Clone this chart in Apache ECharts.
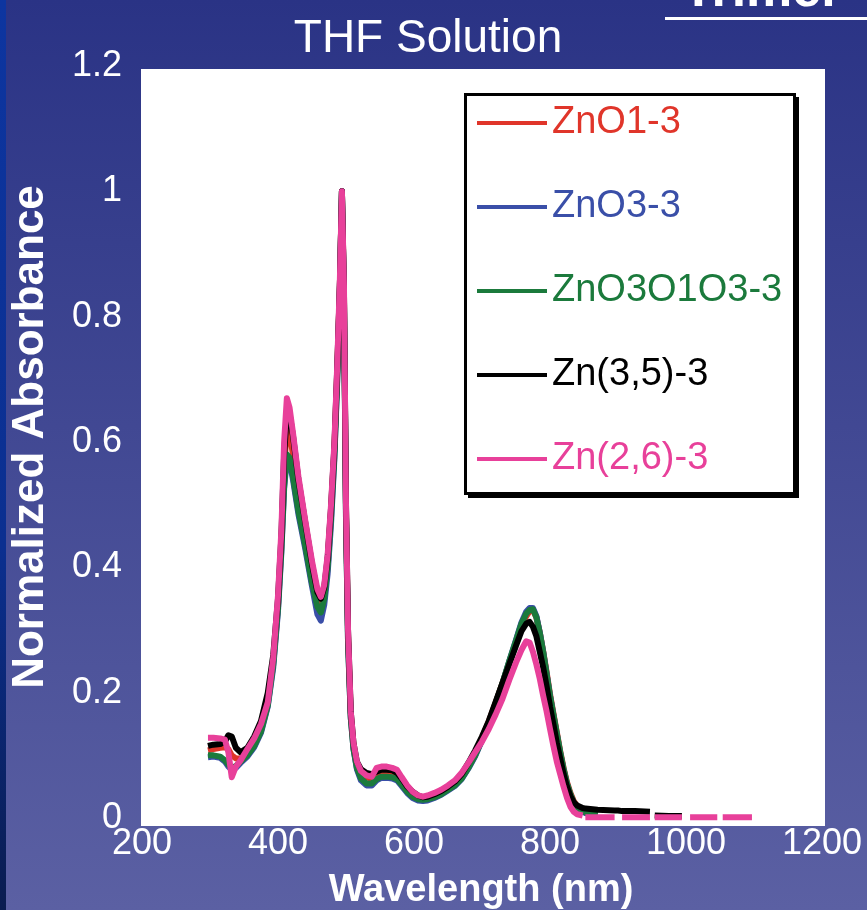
<!DOCTYPE html>
<html>
<head>
<meta charset="utf-8">
<script src="https://cdn.jsdelivr.net/npm/echarts@6/dist/echarts.min.js"></script>
<style>
html,body{margin:0;padding:0;background:#2a3385;}
#chart{width:867px;height:910px;}
</style>
</head>
<body>
<div id="chart"></div>
<script>
// ---- data ----
const seriesNames = ['ZnO1-3', 'ZnO3-3', 'ZnO3O1O3-3', 'Zn(3,5)-3', 'Zn(2,6)-3'];
const xTicks = [200, 400, 600, 800, 1000, 1200];
const yTicks = [0, 0.2, 0.4, 0.6, 0.8, 1, 1.2];
const titleText = 'THF Solution';
const xAxisTitle = 'Wavelength (nm)';
const yAxisTitle = 'Normalized Absorbance';

const wavelength = [
  297, 305, 315, 322, 327, 332, 338, 345, 355, 365, 375, 385, 393, 400, 405, 409, 413, 417, 422, 430,
  440, 450, 458, 463, 468, 473, 478, 483, 487, 491, 494, 497, 500, 503, 507, 511, 516, 522, 530, 538,
  545, 552, 560, 568, 575, 582, 590, 598, 606, 613, 620, 630, 640, 650, 660, 670, 680, 690, 700, 710,
  720, 730, 740, 750, 758, 765, 770, 775, 780, 785, 790, 795, 800, 805, 810, 815, 820, 825, 830, 835,
  840, 848, 849.5, 852, 870, 895, 900, 906, 925, 947, 950, 954, 975, 994, 1000, 1006, 1025, 1046, 1050, 1054,
  1075, 1097
];

const absZnO1 = [
  .108, .110, .112, .113, .110, .100, .095, .095, .104, .120, .145, .190, .250, .340, .440, .560, .620, .615, .580, .520,
  .455, .390, .348, .340, .360, .410, .490, .590, .710, .850, 1.0, .840, .490, .290, .165, .115, .085, .072, .065, .062,
  .070, .073, .073, .072, .068, .058, .046, .037, .032, .030, .031, .035, .040, .047, .056, .068, .085, .105, .128, .154,
  .184, .215, .248, .280, .305, .322, .330, .332, .320, .296, .266, .233, .198, .167, .137, .107, .080, .057, .040, .027,
  .019, .013, .012, .011, .006, null, null, null, null, null, null, null, null, null, null, null, null, null, null, null,
  null, null
];
const absZnO3 = [
  .097, .098, .096, .090, .082, .077, .080, .088, .098, .113, .136, .178, .240, .330, .425, .525, .575, .570, .540, .485,
  .430, .370, .325, .315, .340, .390, .470, .575, .695, .845, 1.0, .830, .480, .280, .160, .110, .078, .060, .052, .052,
  .060, .064, .064, .063, .060, .051, .040, .032, .028, .027, .028, .032, .037, .044, .051, .062, .079, .099, .124, .151,
  .182, .214, .250, .284, .312, .329, .335, .335, .322, .296, .265, .230, .195, .164, .134, .104, .077, .054, .037, .024,
  .016, .010, .009, .008, .004, null, null, null, null, null, null, null, null, null, null, null, null, null, null, null,
  null, null
];
const absZnO3O1O3 = [
  .100, .100, .098, .092, .085, .080, .083, .090, .100, .115, .138, .180, .245, .335, .430, .530, .580, .575, .545, .490,
  .435, .375, .337, .328, .350, .400, .480, .580, .700, .850, 1.0, .830, .480, .280, .160, .110, .080, .063, .055, .055,
  .062, .066, .066, .065, .062, .053, .042, .034, .030, .029, .030, .033, .038, .045, .052, .063, .080, .100, .125, .152,
  .183, .215, .250, .283, .310, .326, .332, .333, .320, .295, .265, .230, .195, .165, .135, .105, .078, .055, .038, .025,
  .017, .011, .010, .009, .005, null, null, null, null, null, null, null, null, null, null, null, null, null, null, null,
  null, null
];
const absZn35 = [
  .115, .117, .118, .122, .132, .130, .112, .105, .112, .130, .155, .200, .260, .350, .450, .580, .645, .645, .610, .540,
  .472, .405, .360, .350, .368, .415, .495, .595, .715, .850, 1.0, .840, .500, .300, .170, .120, .090, .078, .072, .070,
  .074, .077, .077, .076, .072, .063, .050, .042, .036, .033, .034, .038, .043, .050, .058, .070, .088, .108, .130, .155,
  .185, .215, .245, .275, .298, .310, .313, .305, .290, .265, .240, .210, .178, .150, .120, .095, .070, .050, .035, .025,
  .020, .016, .015, .015, .013, .012, .012, .011, .011, .010, null, .004, .003, .003, null, null, null, null, null, null,
  null, null
];
const absZn26 = [
  .128, .128, .127, .125, .105, .065, .082, .092, .110, .127, .150, .185, .255, .355, .460, .600, .670, .655, .615, .545,
  .475, .410, .365, .353, .372, .420, .500, .600, .720, .860, 1.0, .850, .500, .300, .170, .120, .090, .075, .068, .066,
  .080, .082, .082, .080, .077, .065, .052, .042, .036, .034, .036, .040, .045, .052, .060, .072, .088, .105, .122, .142,
  .165, .190, .220, .248, .268, .282, .280, .265, .245, .222, .195, .170, .142, .115, .090, .070, .050, .032, .018, .010,
  .006, .004, null, .001, .001, .001, null, .001, .001, .001, null, .001, .001, .001, null, .001, .001, .001, null, .001,
  .001, .001
];

const seriesColors = ['#e0352a', '#3a4fa8', '#1b7a3c', '#000000', '#e8409a'];
const seriesValues = [absZnO1, absZnO3, absZnO3O1O3, absZn35, absZn26];

// ---- chart ----
const chart = echarts.init(document.getElementById('chart'), null, {renderer: 'canvas'});
const SANS = '"Liberation Sans", Arial, Helvetica, sans-serif';

const series = seriesValues.map((vals, i) => ({
  name: seriesNames[i],
  type: 'line',
  data: wavelength.map((w, j) => [w, vals[j] === null ? '-' : vals[j]]),
  showSymbol: false,
  symbol: 'none',
  connectNulls: false,
  lineStyle: {color: seriesColors[i], width: 6, join: 'round', cap: 'butt'},
  itemStyle: {color: seriesColors[i]},
  z: 3 + i,
  animation: false
}));

const option = {
  animation: false,
  backgroundColor: {
    type: 'linear', x: 0, y: 0, x2: 0, y2: 1,
    colorStops: [{offset: 0, color: '#2a3385'}, {offset: 1, color: '#5b60a3'}]
  },
  grid: {left: 142, right: 45, top: 66, bottom: 92, containLabel: false},
  xAxis: {
    type: 'value', min: xTicks[0], max: xTicks[xTicks.length - 1], interval: 200,
    axisLine: {show: false}, axisTick: {show: false}, splitLine: {show: false},
    axisLabel: {color: '#ffffff', fontFamily: SANS, fontSize: 36, margin: 8, showMinLabel: true, showMaxLabel: true,
      formatter: v => String(v)}
  },
  yAxis: {
    type: 'value', min: yTicks[0], max: yTicks[yTicks.length - 1], interval: 0.2,
    axisLine: {show: false}, axisTick: {show: false}, splitLine: {show: false},
    axisLabel: {color: '#ffffff', fontFamily: SANS, fontSize: 36, margin: 20,
      formatter: v => String(Math.round(v * 10) / 10)}
  },
  legend: {
    orient: 'vertical',
    left: 477, top: 101,
    padding: 0,
    z: 50,
    itemWidth: 70, itemHeight: 4, itemGap: 40,
    icon: 'rect',
    selectedMode: false,
    data: seriesNames.map((n, i) => ({name: n, textStyle: {color: seriesColors[i]}})),
    textStyle: {fontFamily: SANS, fontSize: 38, lineHeight: 44, padding: [0, 0, 0, 0]}
  },
  graphic: [
    {type: 'rect', left: 0, top: 0, z: -10, silent: true,
     shape: {width: 6, height: 910},
     style: {fill: {type: 'linear', x: 0, y: 0, x2: 0, y2: 1,
       colorStops: [{offset: 0, color: '#0d35a0'}, {offset: 0.6, color: '#0b2f90'}, {offset: 1, color: '#0a1c50'}]}}},
    {type: 'rect', left: 141, top: 69, z: -5, silent: true,
     shape: {width: 684, height: 757}, style: {fill: '#ffffff'}},
    // legend box shadow
    {type: 'rect', left: 468, top: 97, z: 1, silent: true,
     shape: {width: 331, height: 401}, style: {fill: '#000000'}},
    // legend box
    {type: 'rect', left: 464, top: 93, z: 2, silent: true,
     shape: {width: 329, height: 399},
     style: {fill: '#ffffff', stroke: '#000000', lineWidth: 3}},
    {type: 'text', x: 428, y: 39, z: 20, silent: true,
     style: {text: titleText, fill: '#ffffff', font: '46px ' + SANS, textAlign: 'center', textVerticalAlign: 'middle'}},
    {type: 'text', x: 762, y: 18, z: 20, silent: true,
     style: {text: 'Trimer', fill: '#ffffff', font: 'bold 52px ' + SANS, textAlign: 'center', textVerticalAlign: 'bottom'}},
    {type: 'rect', left: 665, top: 17, z: 20, silent: true,
     shape: {width: 210, height: 3}, style: {fill: '#ffffff'}},
    {type: 'text', x: 31, y: 437, rotation: Math.PI / 2, z: 20, silent: true,
     style: {text: yAxisTitle, fill: '#ffffff', font: 'bold 44px ' + SANS, textAlign: 'center', textVerticalAlign: 'middle'}},
    {type: 'text', x: 481, y: 891, z: 20, silent: true,
     style: {text: xAxisTitle, fill: '#ffffff', font: 'bold 38px ' + SANS, textAlign: 'center', textVerticalAlign: 'middle'}}
  ],
  series: series
};
chart.setOption(option);
</script>
</body>
</html>
